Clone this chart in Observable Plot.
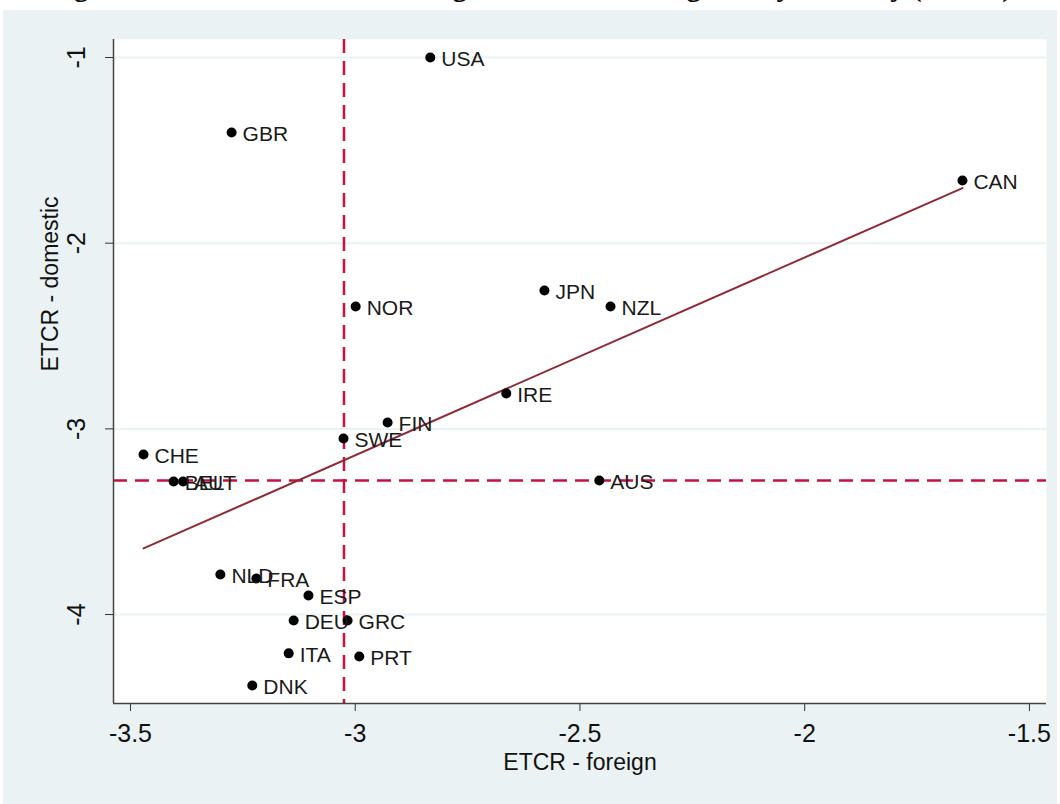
<!DOCTYPE html>
<html>
<head>
<meta charset="utf-8">
<script src="https://cdn.jsdelivr.net/npm/d3@7"></script>
<script src="https://cdn.jsdelivr.net/npm/@observablehq/plot@0.6"></script>
<style>
  html, body { margin: 0; padding: 0; background: #ffffff; }
  body { width: 1060px; height: 804px; position: relative; overflow: hidden; font-family: "Liberation Sans", Arial, sans-serif; }
  #title { position: absolute; left: 0; width: 1060px; top: -30px; text-align: center; font-family: "Liberation Serif", "DejaVu Serif", serif; font-weight: bold; font-size: 29px; color: #111; white-space: nowrap; }
  #bg { position: absolute; left: 3px; top: 10px; width: 1054px; height: 794px; background: #EAF2F3; }
  #chart { position: absolute; left: 0; top: 0; }
</style>
</head>
<body>
<div id="bg"></div>
<div id="title">Figure 3. The association of foreign and domestic regulatory intensity (ETCR)</div>
<div id="chart"></div>
<script>
// Country codes
const countries = ["USA","GBR","CAN","JPN","NZL","NOR","IRE","FIN","SWE","CHE","BEL","AUT","AUS","NLD","FRA","ESP","DEU","GRC","ITA","PRT","DNK"];
// ETCR - foreign (x)
const foreign  = [-2.833,-3.275,-1.649,-2.579,-2.432,-2.999,-2.664,-2.928,-3.026,-3.471,-3.404,-3.383,-2.457,-3.300,-3.220,-3.104,-3.137,-3.017,-3.148,-2.991,-3.229];
// ETCR - domestic (y)
const domestic = [-1.000,-1.404,-1.662,-2.255,-2.341,-2.341,-2.809,-2.966,-3.052,-3.138,-3.283,-3.283,-3.278,-3.784,-3.806,-3.897,-4.032,-4.032,-4.209,-4.226,-4.382];
// Reference (median) lines
const medianForeign = [-3.025];
const medianDomestic = [-3.278];
// Tick values
const xTicks = [-3.5, -3, -2.5, -2, -1.5];
const yTicks = [-1, -2, -3, -4];
const xLabel = "ETCR - foreign";
const yLabel = "ETCR - domestic";

const data = countries.map((c, i) => ({country: c, x: foreign[i], y: domestic[i]}));

const chart = Plot.plot({
  width: 1060,
  height: 804,
  marginLeft: 113,
  marginRight: 14,
  marginTop: 39,
  marginBottom: 101,
  style: {background: "transparent", fontFamily: "'Liberation Sans', Arial, sans-serif", color: "#111"},
  x: {domain: [-3.5378, -1.462]},
  y: {domain: [-4.479, -0.903]},
  marks: [
    Plot.frame({fill: "white", stroke: "none"}),
    Plot.gridY(yTicks, {stroke: "#EAF2F3", strokeOpacity: 1, strokeWidth: 2}),
    Plot.ruleX(medianForeign, {stroke: "#C8103E", strokeWidth: 2.5, strokeDasharray: "14,8"}),
    Plot.ruleY(medianDomestic, {stroke: "#C8103E", strokeWidth: 2.5, strokeDasharray: "14,8"}),
    Plot.linearRegressionY(data, {x: "x", y: "y", stroke: "#8E2A35", strokeWidth: 2, ci: 0}),
    Plot.dot(data, {x: "x", y: "y", r: 5, fill: "#000", stroke: "none"}),
    Plot.text(data, {x: "x", y: "y", text: "country", textAnchor: "start", dx: 11, dy: 2, fontSize: 21, fill: "#1a1a1a"}),
    Plot.axisX(xTicks, {tickSize: 8, tickPadding: 13, fontSize: 25, tickFormat: d => String(d), label: null, stroke: "#333"}),
    Plot.axisY(yTicks, {tickSize: 8, tickPadding: 21, fontSize: 25, tickRotate: -90, tickFormat: d => String(d), label: null, stroke: "#333"}),
    Plot.ruleX([-3.5378], {stroke: "#444", strokeWidth: 1.5}),
    Plot.ruleY([-4.479], {stroke: "#444", strokeWidth: 1.5}),
    Plot.text([xLabel], {frameAnchor: "bottom", dy: 66, fontSize: 23, fill: "#111"}),
    Plot.text([yLabel], {frameAnchor: "left", dx: -63, rotate: -90, fontSize: 23, fill: "#111"})
  ]
});
document.getElementById("chart").appendChild(chart);
</script>
</body>
</html>
